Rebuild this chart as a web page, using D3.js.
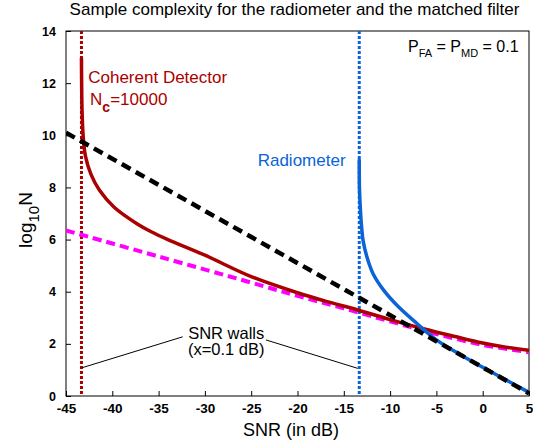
<!DOCTYPE html>
<html>
<head>
<meta charset="utf-8">
<script src="https://cdn.jsdelivr.net/npm/d3@7"></script>
<style>
  body { margin: 0; background: #fff; }
  svg { font-family: "Liberation Sans", Arial, sans-serif; }
</style>
</head>
<body>
<div id="chart"></div>
<script>
const width = 533;
const height = 444;
const margin = { top: 31, right: 4, bottom: 48, left: 66 };

// values: [SNR in dB, log10 N]
const coherent = [
	[-43.33, 12.95], [-43.31, 12.0], [-43.27, 11.0], [-43.15, 10.0], [-42.9, 9.2],
	[-42.3, 8.5], [-41.4, 7.9], [-39.8, 7.24], [-37.3, 6.6], [-35.8, 6.3],
	[-34.0, 6.0], [-30.0, 5.4], [-25.0, 4.58], [-20.0, 3.96], [-17.0, 3.64],
	[-13.5, 3.3], [-10.0, 2.93], [-6.4, 2.58], [-3.0, 2.28], [0.0, 2.03],
	[2.5, 1.87], [5.0, 1.75]
];
const radiometer = [
	[-13.33, 9.05], [-13.31, 8.0], [-13.22, 7.24], [-13.08, 6.5], [-12.92, 5.97],
	[-12.5, 5.33], [-11.84, 4.69], [-10.7, 4.06], [-9.1, 3.42], [-7.1, 2.78],
	[-5.0, 2.15], [-2.5, 1.6], [0.0, 1.1], [2.5, 0.62], [5.0, 0.14]
];
const matched = [[-45, 10.1], [5, 0.1]];
const lowSnr = [
	[-45, 6.35], [-35, 5.35], [-25, 4.35], [-20, 3.84], [-15, 3.36],
	[-10, 2.86], [-5, 2.38], [0, 1.96], [5, 1.68]
];
const walls = [-43.33, -13.33];
const wallLabelLines = [
	[[-43.3, 1.08], [-32.4, 2.27]],
	[[-23.4, 2.15], [-13.5, 1.06]]
];
const xTicks = [-45, -40, -35, -30, -25, -20, -15, -10, -5, 0, 5];
const yTicks = [0, 2, 4, 6, 8, 10, 12, 14];

const red = "#aa0000";
const blue = "#0a64d8";

const svg = d3.select("#chart").append("svg")
	.attr("width", width)
	.attr("height", height);

const x = d3.scaleLinear().domain([-45, 5]).range([margin.left, width - margin.right]);
const y = d3.scaleLinear().domain([0, 14]).range([height - margin.bottom, margin.top]);

svg.append("defs").append("clipPath").attr("id", "clip")
	.append("rect")
	.attr("x", x(-45)).attr("y", y(14))
	.attr("width", x(5) - x(-45)).attr("height", y(0) - y(14));

// axes
const xAxis = svg.append("g")
	.attr("transform", `translate(0,${y(0)})`)
	.call(d3.axisBottom(x).tickValues(xTicks).tickFormat(d => String(d))
		.tickSizeInner(-5).tickSizeOuter(0).tickPadding(7));
const yAxis = svg.append("g")
	.attr("transform", `translate(${x(-45)},0)`)
	.call(d3.axisLeft(y).tickValues(yTicks).tickFormat(d => String(d))
		.tickSizeInner(-5).tickSizeOuter(0).tickPadding(10));
[xAxis, yAxis].forEach(a => {
	a.select(".domain").remove();
	a.selectAll("text").attr("font-weight", "bold")
		.attr("font-family", "'Liberation Sans', Arial, sans-serif").attr("fill", "#000");
	a.selectAll("line").attr("stroke", "#000");
});
xAxis.selectAll("text").attr("font-size", 13.5);
yAxis.selectAll("text").attr("font-size", 12.5);

svg.append("rect")
	.attr("x", x(-45)).attr("y", y(14))
	.attr("width", x(5) - x(-45)).attr("height", y(0) - y(14))
	.attr("fill", "none").attr("stroke", "#000").attr("stroke-width", 1);

const plot = svg.append("g").attr("clip-path", "url(#clip)");

const line = d3.line().x(d => x(d[0])).y(d => y(d[1]));
const curve = d3.line().x(d => x(d[0])).y(d => y(d[1])).curve(d3.curveCatmullRom.alpha(0.5));

// SNR walls
plot.selectAll("line.wall")
	.data(walls)
	.join("line")
	.attr("class", "wall")
	.attr("x1", d => x(d)).attr("x2", d => x(d))
	.attr("y1", y(14)).attr("y2", y(0))
	.attr("stroke", (d, i) => i === 0 ? red : blue)
	.attr("stroke-width", 3)
	.attr("stroke-dasharray", "3,2");

plot.append("path").datum(lowSnr)
	.attr("d", curve).attr("fill", "none")
	.attr("stroke", "#ff00ff").attr("stroke-width", 4).attr("stroke-dasharray", "9,5");

plot.append("path").datum(coherent)
	.attr("d", curve).attr("fill", "none")
	.attr("stroke", red).attr("stroke-width", 3.5).attr("stroke-linecap", "round");

plot.append("path").datum(radiometer)
	.attr("d", curve).attr("fill", "none")
	.attr("stroke", blue).attr("stroke-width", 3.5).attr("stroke-linecap", "round");

plot.append("path").datum(matched)
	.attr("d", line).attr("fill", "none")
	.attr("stroke", "#000").attr("stroke-width", 4.5).attr("stroke-dasharray", "10,6");

// wall annotation
svg.selectAll("line.ann")
	.data(wallLabelLines)
	.join("line")
	.attr("class", "ann")
	.attr("x1", d => x(d[0][0])).attr("y1", d => y(d[0][1]))
	.attr("x2", d => x(d[1][0])).attr("y2", d => y(d[1][1]))
	.attr("stroke", "#000").attr("stroke-width", 1);

svg.append("text")
	.attr("x", x(-27.7)).attr("y", y(2.19))
	.attr("text-anchor", "middle").attr("font-size", 16.5)
	.text("SNR walls");
svg.append("text")
	.attr("x", x(-27.7)).attr("y", y(1.57))
	.attr("text-anchor", "middle").attr("font-size", 16.5)
	.text("(x=0.1 dB)");

// labels
svg.append("text")
	.attr("x", x(-42.6)).attr("y", y(12.0))
	.attr("font-size", 17).attr("fill", red)
	.text("Coherent Detector");
const nc = svg.append("text")
	.attr("x", x(-42.4)).attr("y", y(11.17))
	.attr("font-size", 17).attr("fill", red);
nc.append("tspan").text("N");
nc.append("tspan").attr("dy", 7).attr("font-weight", "bold").attr("font-size", 14).text("c");
nc.append("tspan").attr("dy", -7).text("=10000");

svg.append("text")
	.attr("x", x(-24.3)).attr("y", y(8.82))
	.attr("font-size", 17).attr("fill", blue)
	.text("Radiometer");

const pt = svg.append("text")
	.attr("x", x(-8.07)).attr("y", y(13.2))
	.attr("font-size", 16).attr("fill", "#000");
pt.append("tspan").text("P");
pt.append("tspan").attr("dy", 5).attr("font-size", 11).text("FA");
pt.append("tspan").attr("dy", -5).text(" =  P");
pt.append("tspan").attr("dy", 5).attr("font-size", 11).text("MD");
pt.append("tspan").attr("dy", -5).text(" = 0.1");

// title and axis labels
svg.append("text")
	.attr("x", 294.5).attr("y", 15)
	.attr("text-anchor", "middle").attr("font-size", 17)
	.text("Sample complexity for the radiometer and the matched filter");

svg.append("text")
	.attr("x", 291).attr("y", 436)
	.attr("text-anchor", "middle").attr("font-size", 18)
	.text("SNR (in dB)");

const yl = svg.append("text")
	.attr("transform", `translate(32,${y(6.75)}) rotate(-90)`)
	.attr("text-anchor", "middle").attr("font-size", 19);
yl.append("tspan").text("log");
yl.append("tspan").attr("dy", 7).attr("font-size", 15).text("10");
yl.append("tspan").attr("dy", -7).text("N");
</script>
</body>
</html>
